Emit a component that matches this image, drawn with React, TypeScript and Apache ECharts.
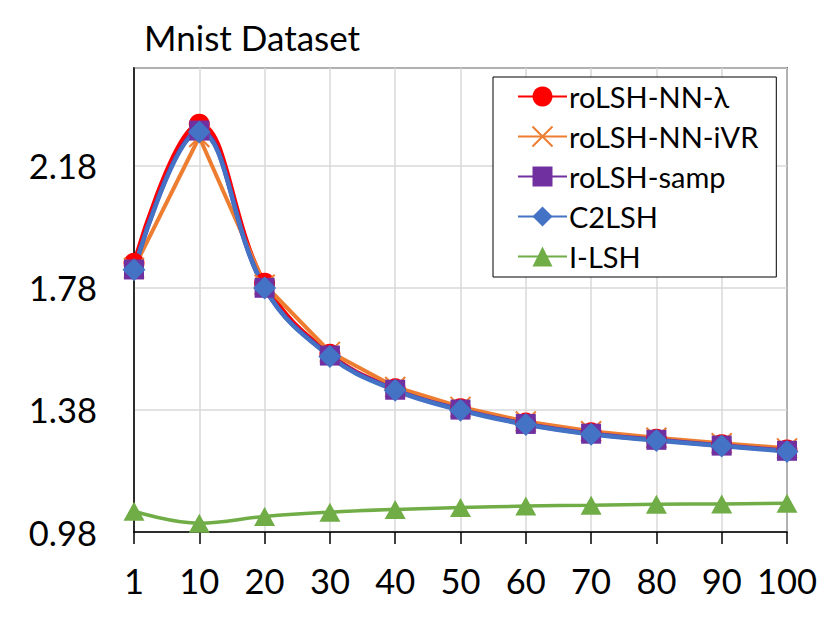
import React, { useEffect, useRef } from "react";
import * as echarts from "echarts";

const categories = ["1", "10", "20", "30", "40", "50", "60", "70", "80", "90", "100"];
const roLSHNNLambda = [1.86, 2.316, 1.795, 1.562, 1.449, 1.384, 1.337, 1.305, 1.284, 1.266, 1.249];
const roLSHNNiVR = [1.845, 2.274, 1.79, 1.57, 1.455, 1.39, 1.342, 1.31, 1.289, 1.271, 1.254];
const roLSHSamp = [1.84, 2.295, 1.78, 1.558, 1.446, 1.381, 1.334, 1.302, 1.282, 1.263, 1.246];
const c2lsh = [1.839, 2.29, 1.779, 1.555, 1.444, 1.379, 1.332, 1.3, 1.28, 1.262, 1.244];
const iLSH = [1.048, 1.009, 1.031, 1.045, 1.054, 1.06, 1.065, 1.068, 1.071, 1.072, 1.074];
const yTicks = { min: 0.98, max: 2.5, interval: 0.4 };

const FONT = "Lato";

export default function App() {
  const ref = useRef<HTMLDivElement>(null);
  useEffect(() => {
    document.body.style.margin = "0";
    const chart = echarts.init(ref.current!, null, { renderer: "svg" });
    const series: any[] = [
      {
        name: "roLSH-NN-λ",
        data: roLSHNNLambda,
        color: "#FF0000",
        symbol: "circle",
        symbolSize: 21,
        smooth: 0.4,
        lineWidth: 4.5,
      },
      {
        name: "roLSH-NN-iVR",
        data: roLSHNNiVR,
        color: "#ED7D31",
        symbol: "path://M0,0L10,10M10,0L0,10",
        symbolSize: 20,
        smooth: false,
        lineWidth: 4,
        cross: true,
      },
      {
        name: "roLSH-samp",
        data: roLSHSamp,
        color: "#7030A0",
        symbol: "rect",
        symbolSize: 20,
        smooth: 0.4,
        lineWidth: 4.5,
      },
      {
        name: "C2LSH",
        data: c2lsh,
        color: "#4472C4",
        symbol: "diamond",
        symbolSize: 23,
        smooth: 0.4,
        lineWidth: 4.5,
      },
      {
        name: "I-LSH",
        data: iLSH,
        color: "#70AD47",
        symbol: "triangle",
        symbolSize: [21, 19],
        smooth: 0.4,
        lineWidth: 3.5,
      },
    ].map((s) => ({
      name: s.name,
      type: "line",
      data: s.data,
      smooth: s.smooth,
      symbol: s.symbol,
      symbolSize: s.symbolSize,
      showAllSymbol: true,
      lineStyle: { color: s.color, width: s.lineWidth },
      itemStyle: s.cross
        ? { color: "rgba(0,0,0,0)", borderColor: s.color, borderWidth: 2 }
        : { color: s.color, borderWidth: 0 },
      emphasis: { disabled: true },
    }));

    chart.setOption({
      animation: false,
      title: {
        text: "Mnist Dataset",
        left: 139,
        top: 14,
        textStyle: { fontFamily: FONT, fontSize: 35, fontWeight: "normal", color: "#000" },
      },
      legend: {
        orient: "vertical",
        left: 493,
        top: 77,
        backgroundColor: "#fff",
        borderColor: "#000",
        borderWidth: 1,
        padding: [5, 18, 6, 24],
        itemWidth: 49,
        itemHeight: 25,
        itemGap: 11,
        textStyle: { fontFamily: FONT, fontSize: 29, color: "#000", padding: [0, 0, 0, -3] },
        data: series.map((s) => s.name),
      },
      grid: {
        left: 134,
        top: 68,
        right: 44,
        bottom: 99,
        containLabel: false,
        outerBoundsMode: "none",
        show: true,
        borderColor: "#000",
        borderWidth: 1.5,
      },
      xAxis: {
        type: "category",
        data: categories,
        boundaryGap: false,
        axisLine: { show: true, lineStyle: { color: "#000", width: 1.5 } },
        axisTick: { show: true, length: 12, lineStyle: { color: "#000", width: 1.5 } },
        axisLabel: { fontFamily: FONT, fontSize: 34.5, color: "#000", margin: 31, interval: 0 },
        splitLine: { show: true, lineStyle: { color: "#d9d9d9", width: 1.5 } },
      },
      yAxis: {
        type: "value",
        min: yTicks.min,
        max: yTicks.max,
        interval: yTicks.interval,
        axisLine: { show: true, lineStyle: { color: "#000", width: 1.5 } },
        axisTick: { show: false },
        axisLabel: {
          fontFamily: FONT,
          fontSize: 34.5,
          color: "#000",
          margin: 37,
          showMaxLabel: false,
          formatter: (v: number) => v.toFixed(2),
        },
        splitLine: { show: true, lineStyle: { color: "#d9d9d9", width: 1.5 } },
      },
      series,
    });
    return () => chart.dispose();
  }, []);
  return <div ref={ref} style={{ width: 831, height: 631 }} />;
}
